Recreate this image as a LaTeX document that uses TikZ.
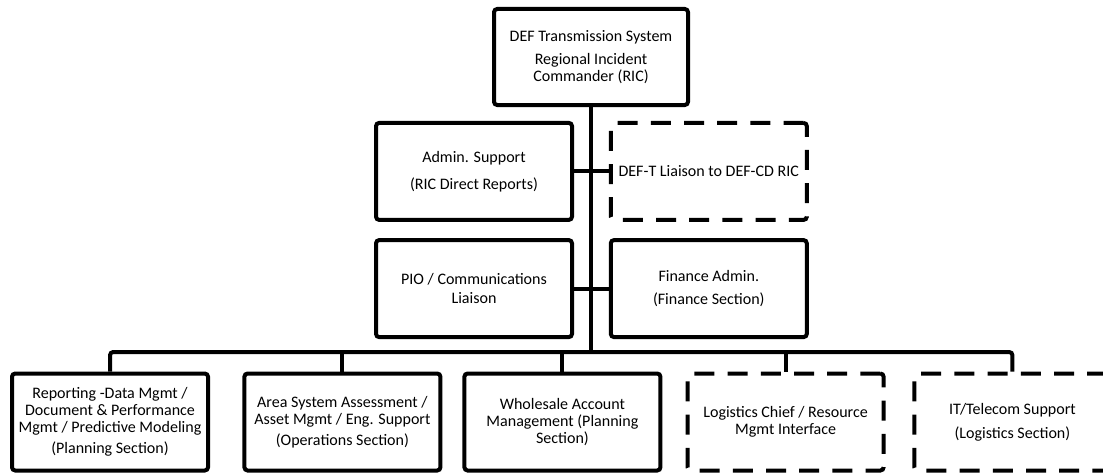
\documentclass[tikz,border=0pt]{standalone}
\usepackage{fontspec}
\setmainfont{Carlito}

\begin{document}
\begin{tikzpicture}[
		box/.style = {draw, line width=0.1cm, rounded corners=0.08cm, minimum width=4.9cm, minimum height=2.425cm, align=center, inner sep=0pt, font=\fontsize{11.4}{12}\selectfont},
		dbox/.style = {box, dash pattern=on 0.5cm off 0.33cm},
		wire/.style = {line width=0.1cm, rounded corners=0.08cm}]
		\clip (0,0) rectangle (27.575,11.825);

		\draw (14.775,10.4) node[box, minimum width=4.85cm, minimum height=2.4cm] (ric) {DEF Transmission System\\[5pt]Regional Incident\\Commander (RIC)};

		\draw (11.85,7.54) node[box] (admin) {Admin. Support\\[7pt](RIC Direct Reports)};
		\draw (17.72,7.54) node[dbox] (liaison) {DEF-T Liaison to DEF-CD RIC};

		\draw (11.85,4.61) node[box] (pio) {PIO / Communications\\[1pt]Liaison};
		\draw (17.72,4.61) node[box] (finance) {Finance Admin.\\[4pt](Finance Section)};

		\coordinate (bus) at (14.775,3.025);

		\draw (2.75,1.275) node[box] (report) {Reporting -Data Mgmt /\\Document \& Performance\\Mgmt / Predictive Modeling\\[3pt](Planning Section)};
		\draw (8.56,1.275) node[box] (assess) {Area System Assessment /\\Asset Mgmt / Eng. Support\\[3pt](Operations Section)};
		\draw (14.06,1.275) node[box] (whole) {Wholesale Account\\Management (Planning\\Section)};
		\draw (19.64,1.275) node[dbox] (logist) {Logistics Chief / Resource\\Mgmt Interface};
		\draw (25.31,1.275) node[dbox] (itsup) {IT/Telecom Support\\[5pt](Logistics Section)};

		\draw [wire] (ric.south) -- (bus);
		\draw [wire] (admin.east) -- (liaison.west);
		\draw [wire] (pio.east) -- (finance.west);
		\draw [wire] (report.north) |- (bus) -| (itsup.north);
		\draw [wire] (assess.north) -- (assess.north |- bus);
		\draw [wire] (whole.north) -- (whole.north |- bus);
		\draw [wire] (logist.north) -- (logist.north |- bus);
	\end{tikzpicture}
\end{document}
